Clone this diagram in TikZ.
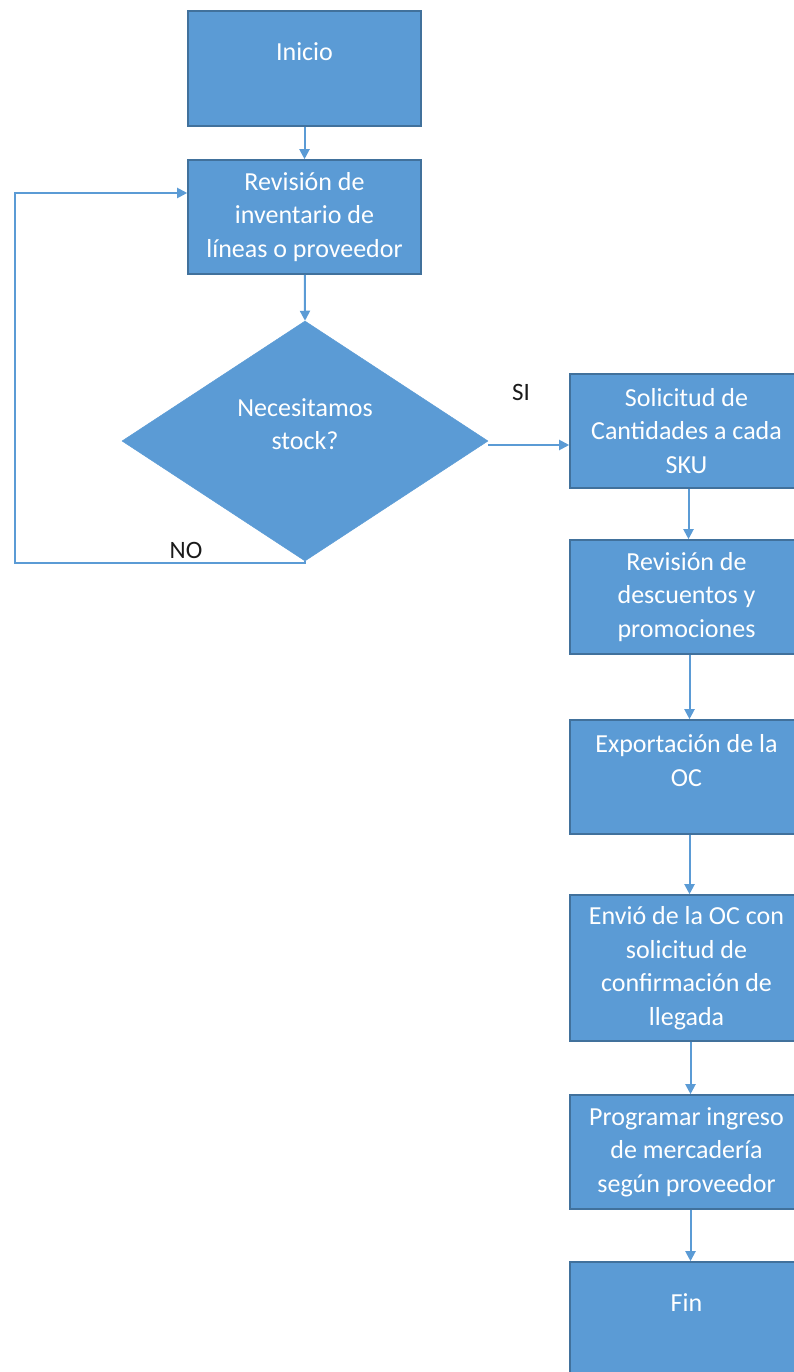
\documentclass[tikz,border=0pt]{standalone}
\usepackage{fontspec}
\setmainfont{Carlito}
\usetikzlibrary{shapes.geometric,arrows.meta}
\definecolor{boxfill}{HTML}{5B9BD5}
\definecolor{boxline}{HTML}{41719C}
\definecolor{conncol}{HTML}{5B9BD5}
\definecolor{lblcol}{HTML}{1A1A1A}
\tikzset{
  procbox/.style={draw=boxline, line width=1.6pt, fill=boxfill, text=white,
    minimum width=233pt, inner sep=0pt, align=center,
    font=\fontsize{26}{33.5}\selectfont},
  decbox/.style={diamond, draw=boxfill, line width=0.5pt, fill=boxfill, text=white,
    minimum width=366pt, minimum height=240pt, aspect=1.5, inner sep=0pt, align=center,
    font=\fontsize{26}{33.5}\selectfont},
  conn/.style={draw=conncol, line width=2pt, -{Triangle[length=10pt,width=10pt]}},
  lbl/.style={text=lblcol, inner sep=0pt, font=\fontsize{25}{28}\selectfont}
}
\begin{document}
\begin{tikzpicture}[x=1pt,y=-1pt]
\useasboundingbox (0,0) rectangle (793,1372);
\node[procbox, minimum height=115pt] (ini) at (304.5,68.5) {Inicio\\~};
\node[procbox, minimum height=114pt] (rev) at (304.5,217) {Revisión de\\inventario de\\líneas o proveedor};
\node[decbox] (d) at (305,441) {Necesitamos\\stock?\\~};
\node[procbox, minimum height=114pt] (sol) at (686.5,431) {Solicitud de\\Cantidades a cada\\SKU};
\node[procbox, minimum height=114pt] (rdp) at (686.5,597) {Revisión de\\descuentos y\\promociones};
\node[procbox, minimum height=114pt] (exp) at (686.5,777) {Exportación de la\\OC\\~};
\node[procbox, minimum height=146pt] (env) at (686.5,968) {Envió de la OC con\\solicitud de\\confirmación de\\llegada};
\node[procbox, minimum height=114pt] (prog) at (686.5,1152) {Programar ingreso\\de mercadería\\según proveedor};
\node[procbox, minimum height=115pt] (fin) at (686.5,1319.5) {Fin\\~};
\coordinate (lp) at (15,563);
\coordinate (rin) at ([yshift=24pt]rev.west);
\coordinate (dout) at ([yshift=-4pt]d.east);
\node[lbl] (si) at (521,392) {SI};
\node[lbl] (no) at (186,550) {NO};
\draw[conn] (ini) -- (rev);
\draw[conn] (rev) -- (d.north);
\draw[conn] (dout) -- (dout -| sol.west);
\draw[conn] ([xshift=2pt]sol.south) -- ([xshift=2pt]rdp.north);
\draw[conn] ([xshift=3pt]rdp.south) -- ([xshift=3pt]exp.north);
\draw[conn] ([xshift=3pt]exp.south) -- ([xshift=3pt]env.north);
\draw[conn] ([xshift=4pt]env.south) -- ([xshift=4pt]prog.north);
\draw[conn] ([xshift=4pt]prog.south) -- ([xshift=4pt]fin.north);
\draw[conn] (d.south) -- (d.south |- lp) -- (lp) -- (lp |- rin) -- (rin);
\end{tikzpicture}
\end{document}
